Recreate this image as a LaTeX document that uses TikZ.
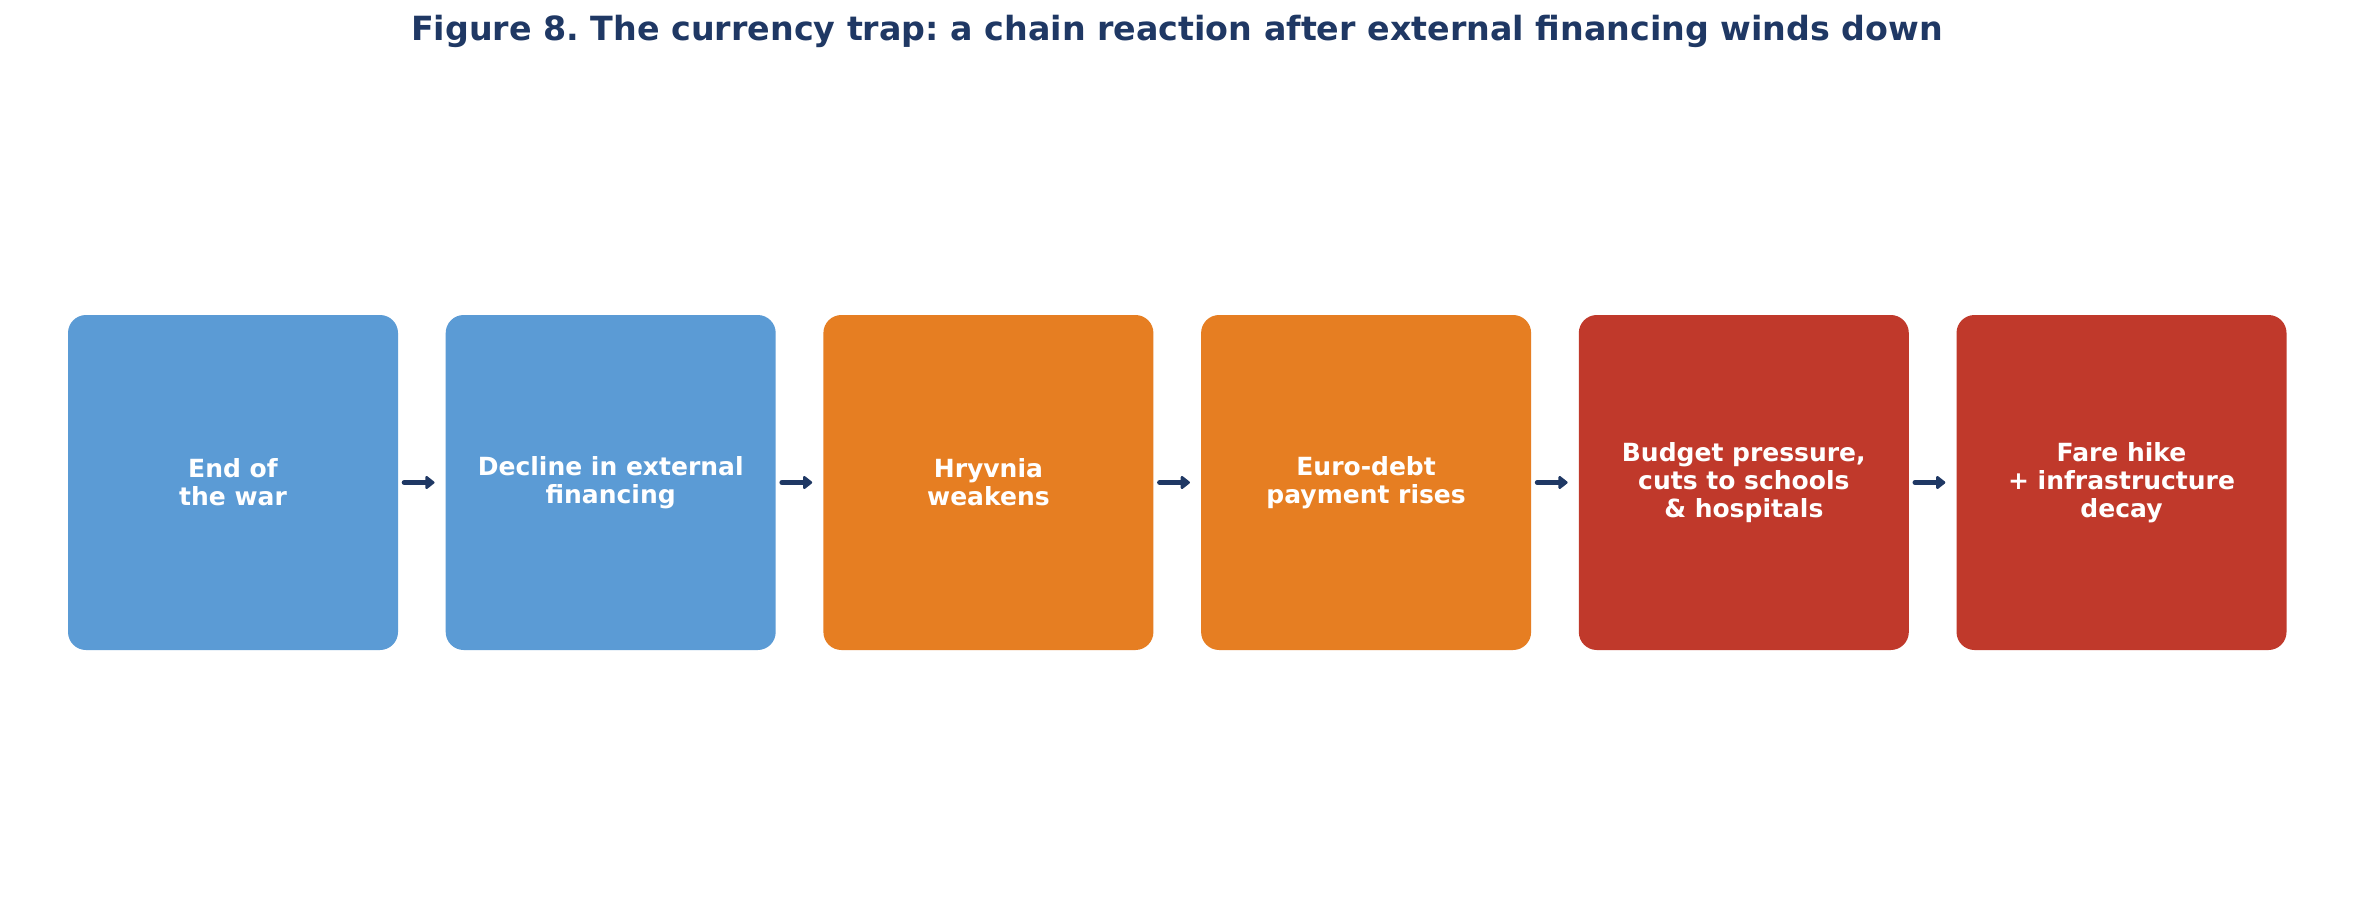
\documentclass[tikz,border=0pt]{standalone}
\usepackage{fontspec}
\setmainfont{DejaVu Sans}
\usetikzlibrary{arrows.meta}
\definecolor{navy}{HTML}{1F3864}
\definecolor{cblue}{HTML}{5B9BD5}
\definecolor{corange}{HTML}{E67E22}
\definecolor{cred}{HTML}{C0392B}
\frenchspacing
\tikzset{
  stage/.style={minimum width=330pt, minimum height=335pt, rounded corners=18pt, align=center, text=white, inner sep=0pt, font=\bfseries\fontsize{25}{28}\selectfont},
  flow/.style={navy, line width=5pt, line cap=round, -{Triangle[round, length=10pt, width=15pt]}, shorten <=6pt, shorten >=11pt},
  heading/.style={text=navy, font=\bfseries\fontsize{33.3}{40}\selectfont}
}
\begin{document}
\begin{tikzpicture}[x=1pt,y=-1pt]
\useasboundingbox[fill=white] (0,0) rectangle (2355,902);
\node[heading] (title) at (1177,31) {Figure 8. The currency trap: a chain reaction after external financing winds down};
\node[stage, fill=cblue] (b1) at (233,482.5) {End of\\the war};
\node[stage, fill=cblue] (b2) at (610.7,482.5) {Decline in external\\financing};
\node[stage, fill=corange] (b3) at (988.4,482.5) {Hryvnia\\weakens};
\node[stage, fill=corange] (b4) at (1366.1,482.5) {Euro-debt\\payment rises};
\node[stage, fill=cred] (b5) at (1743.8,482.5) {Budget pressure,\\cuts to schools\\\& hospitals};
\node[stage, fill=cred] (b6) at (2121.5,482.5) {Fare hike\\+ infrastructure\\decay};
\foreach \a/\b in {b1/b2,b2/b3,b3/b4,b4/b5,b5/b6}
  \draw[flow] (\a.east) -- (\b.west);
\end{tikzpicture}
\end{document}
